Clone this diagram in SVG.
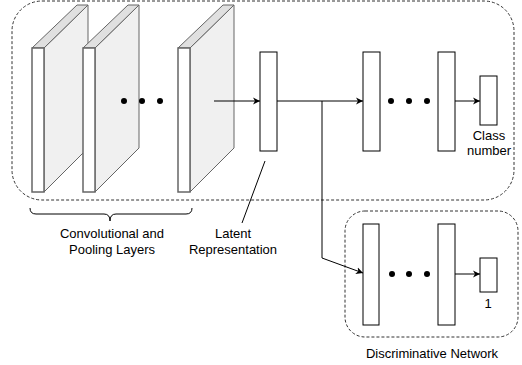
<svg xmlns="http://www.w3.org/2000/svg" width="522" height="365" viewBox="0 0 522 365">
<defs>
<style>
.grp{fill:none;stroke:#333;stroke-width:1;stroke-dasharray:3 2}
.front{fill:#fff;stroke:#666;stroke-width:1.5}
.side{fill:#f0f0f0;stroke:#666;stroke-width:1}
.top{fill:#e0e0e0;stroke:#666;stroke-width:1}
.layer{fill:#fff;stroke:#000;stroke-width:1}
.dot{fill:#000}
.edge{fill:none;stroke:#000;stroke-width:1}
text{font-family:"Liberation Sans",Arial,sans-serif;font-size:13px;fill:#000;text-anchor:middle}
</style>
<marker id="arr" markerWidth="8" markerHeight="8" refX="7" refY="4" orient="auto" markerUnits="userSpaceOnUse">
<path d="M0,0.5 L7,4 L0,7.5 L2,4 Z" fill="#000"/>
</marker>
</defs>
<rect class="grp" x="12" y="1" width="502" height="199" rx="30"/>
<rect class="grp" x="345" y="211" width="173" height="126" rx="20"/>
<g id="conv1">
<polygon class="side" points="44,48 88,5 88,148 44,192"/>
<polygon class="top" points="32,48 77,5 88,5 44,48"/>
<rect class="front" x="32" y="48" width="12" height="144"/>
</g>
<g id="conv2">
<polygon class="side" points="95,48 139,5 139,148 95,192"/>
<polygon class="top" points="83,48 128,5 139,5 95,48"/>
<rect class="front" x="83" y="48" width="12" height="144"/>
</g>
<g id="conv3">
<polygon class="side" points="190,48 234,5 234,148 190,192"/>
<polygon class="top" points="178,48 223,5 234,5 190,48"/>
<rect class="front" x="178" y="48" width="12" height="144"/>
</g>
<g id="dots1">
<circle class="dot" cx="124" cy="101" r="3"/>
<circle class="dot" cx="142" cy="101" r="3"/>
<circle class="dot" cx="160" cy="101" r="3"/>
</g>
<g id="latent"><rect class="layer" x="260" y="52" width="17" height="99"/></g>
<g id="fc1"><rect class="layer" x="363" y="52" width="17" height="99"/></g>
<g id="dots2">
<circle class="dot" cx="391" cy="101" r="3"/>
<circle class="dot" cx="409" cy="101" r="3"/>
<circle class="dot" cx="427" cy="101" r="3"/>
</g>
<g id="fc2"><rect class="layer" x="438" y="52" width="17" height="99"/></g>
<g id="out"><rect class="layer" x="480" y="76" width="17" height="49"/>
<text x="489" y="140">Class</text><text x="489" y="155">number</text></g>
<g id="d1"><rect class="layer" x="363" y="224" width="16" height="101"/></g>
<g id="dots3">
<circle class="dot" cx="392" cy="274" r="3"/>
<circle class="dot" cx="409" cy="274" r="3"/>
<circle class="dot" cx="427" cy="274" r="3"/>
</g>
<g id="d2"><rect class="layer" x="438" y="224" width="17" height="101"/></g>
<g id="dout"><rect class="layer" x="480" y="258" width="17" height="34"/>
<text x="488" y="308">1</text></g>
<g id="labels">
<path class="edge" stroke="#444" d="M30,208 Q30,214 36,214 L104,214 Q110,214 110,221 Q110,214 116,214 L186,214 Q192,214 192,208"/>
<text x="112" y="238">Convolutional and</text>
<text x="112" y="254">Pooling Layers</text>
<line class="edge" x1="265" y1="161" x2="242" y2="223"/>
<text x="233" y="238">Latent</text>
<text x="233" y="254">Representation</text>
<text x="432" y="358">Discriminative Network</text>
</g>
<g id="connectors">
<line class="edge" x1="214" y1="101" x2="260" y2="101" marker-end="url(#arr)"/>
<line class="edge" x1="277" y1="101" x2="363" y2="101" marker-end="url(#arr)"/>
<line class="edge" x1="455" y1="101" x2="480" y2="101" marker-end="url(#arr)"/>
<polyline class="edge" points="322,101 322,258 363,273" marker-end="url(#arr)"/>
<line class="edge" x1="455" y1="274" x2="480" y2="274" marker-end="url(#arr)"/>
</g>
</svg>
